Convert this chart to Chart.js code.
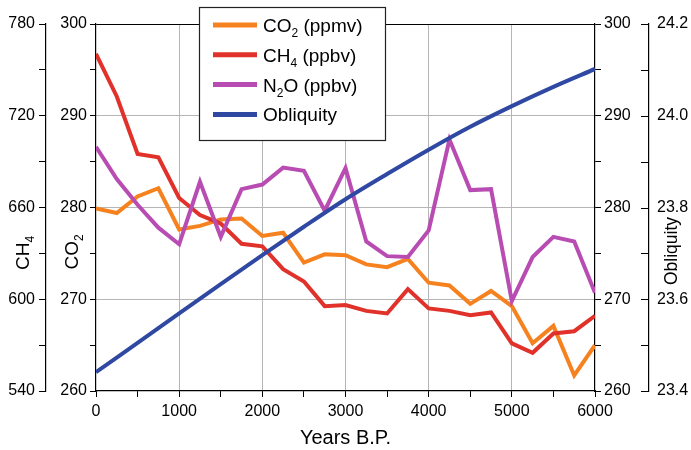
<!DOCTYPE html>
<html>
<head>
<meta charset="utf-8">
<script src="https://cdn.jsdelivr.net/npm/chart.js@4.4.0/dist/chart.umd.min.js"></script>
<style>
  body { margin: 0; background: #fff; }
  canvas { display: block; }
</style>
</head>
<body>
<canvas id="myChart" width="691" height="450"></canvas>
<script>
// greenhouse gases and obliquity over the last 6000 years
var years = [0, 250, 500, 750, 1000, 1250, 1500, 1750, 2000, 2250, 2500, 2750, 3000,
             3250, 3500, 3750, 4000, 4250, 4500, 4750, 5000, 5250, 5500, 5750, 6000];
var co2 = [279.9, 279.4, 281.2, 282.1, 277.6, 278.0, 278.7, 278.8, 276.9, 277.25, 274.0, 274.9, 274.8,
           273.8, 273.5, 274.4, 271.8, 271.5, 269.5, 270.9, 269.25, 265.2, 267.1, 261.7, 265.0];
var ch4 = [760.5, 732.6, 695.0, 692.8, 666.2, 655.1, 649.5, 636.3, 634.6, 619.7, 611.6, 595.5, 596.2,
           592.4, 590.7, 606.6, 594.0, 592.4, 589.6, 591.4, 571.1, 565.0, 577.6, 579.1, 589.2];
var n2o = [286.6, 283.1, 280.3, 277.8, 276.0, 282.8, 276.8, 282.0, 282.5, 284.35, 284.0, 279.65, 284.3,
           276.3, 274.7, 274.6, 277.5, 287.4, 281.9, 282.0, 269.8, 274.6, 276.8, 276.3, 270.7];
var oblYears = [0, 500, 1000, 1500, 2000, 2500, 3000, 3500, 4000, 4500, 5000, 5500, 6000];
var obliquity = [23.441, 23.505, 23.569, 23.633, 23.696, 23.758, 23.818, 23.873, 23.926, 23.976, 24.021, 24.063, 24.102];

// legend names as [text, subscript, rest]
var names = [["CO", "2", " (ppmv)"], ["CH", "4", " (ppbv)"], ["N", "2", "O (ppbv)"], ["Obliquity", "", ""]];
var lineColors = ["#F5821F", "#E0322A", "#B84CB3", "#2F48A2"];

function pts(xs, ys) {
  var out = [];
  for (var i = 0; i < xs.length; i++) out.push({x: xs[i], y: ys[i]});
  return out;
}

var FONT = "'Liberation Sans', Arial, sans-serif";
Chart.defaults.font.family = FONT;
Chart.defaults.font.size = 16;
Chart.defaults.color = "#000";

// text with a lowered subscript, drawn from x along the baseline
function subText(ctx, parts, x, y, size, measureOnly) {
  ctx.font = size + "px " + FONT;
  var w1 = ctx.measureText(parts[0]).width;
  var w3 = ctx.measureText(parts[2]).width;
  ctx.font = Math.round(size * 0.62) + "px " + FONT;
  var w2 = ctx.measureText(parts[1]).width;
  if (measureOnly) return w1 + w2 + w3;
  ctx.font = size + "px " + FONT;
  ctx.fillText(parts[0], x, y);
  ctx.font = Math.round(size * 0.62) + "px " + FONT;
  ctx.fillText(parts[1], x + w1, y + size * 0.28);
  ctx.font = size + "px " + FONT;
  ctx.fillText(parts[2], x + w1 + w2, y);
  return w1 + w2 + w3;
}

function vTitle(ctx, parts, bx, cy, size) {
  ctx.save();
  ctx.translate(bx, cy);
  ctx.rotate(-Math.PI / 2);
  var w = subText(ctx, parts, 0, 0, size, true);
  subText(ctx, parts, -w / 2, 0, size);
  ctx.restore();
}

var extras = {
  id: "extras",
  afterDraw: function(chart) {
    var ctx = chart.ctx;
    var ob = chart.scales.obl;
    ctx.save();
    ctx.fillStyle = "#000";
    ctx.textBaseline = "alphabetic";
    ctx.textAlign = "left";

    // inward ticks on the obliquity axis
    ctx.strokeStyle = "#000";
    ctx.lineWidth = 1;
    ob.ticks.forEach(function(t) {
      var y = Math.round(ob.getPixelForValue(t.value)) + 0.5;
      ctx.beginPath();
      ctx.moveTo(ob.left - 8, y);
      ctx.lineTo(ob.left, y);
      ctx.stroke();
    });

    // axis titles
    vTitle(ctx, ["CH", "4", ""], 29, 253, 19);
    vTitle(ctx, ["CO", "2", ""], 78, 252, 19);
    vTitle(ctx, ["Obliquity", "", ""], 677, 251, 17.5);
    ctx.font = "20px " + FONT;
    ctx.textAlign = "center";
    ctx.fillText("Years B.P.", (chart.chartArea.left + chart.chartArea.right) / 2, 444);

    // legend box inside the plot
    ctx.textAlign = "left";
    ctx.fillStyle = "#fff";
    ctx.fillRect(199, 7, 186, 134);
    ctx.strokeStyle = "#222";
    ctx.lineWidth = 1.2;
    ctx.strokeRect(199.5, 7.5, 186, 133);
    for (var i = 0; i < names.length; i++) {
      var cy = 25 + i * 29.8;
      ctx.strokeStyle = lineColors[i];
      ctx.lineWidth = 5;
      ctx.beginPath();
      ctx.moveTo(213, cy);
      ctx.lineTo(257, cy);
      ctx.stroke();
      ctx.fillStyle = "#000";
      subText(ctx, names[i], 263, cy + 7, 19);
    }
    ctx.restore();
  }
};

function fixW(w) { return function(s) { s.width = w; }; }

new Chart("myChart", {
  type: "line",
  data: {
    datasets: [
      {label: "CO2", data: pts(years, co2), yAxisID: "co2", borderColor: lineColors[0], order: 4},
      {label: "CH4", data: pts(years, ch4), yAxisID: "ch4", borderColor: lineColors[1], order: 3},
      {label: "N2O", data: pts(years, n2o), yAxisID: "n2o", borderColor: lineColors[2], order: 2},
      {label: "Obliquity", data: pts(oblYears, obliquity), yAxisID: "obl", borderColor: lineColors[3], order: 1,
       cubicInterpolationMode: "monotone"}
    ]
  },
  options: {
    responsive: false,
    animation: false,
    devicePixelRatio: 1,
    layout: {padding: {left: 1, right: 1, top: 24, bottom: 0}},
    elements: {
      line: {borderWidth: 4, tension: 0, borderJoinStyle: "miter"},
      point: {radius: 0}
    },
    plugins: {legend: {display: false}, tooltip: {enabled: false}},
    scales: {
      x: {
        type: "linear", position: "bottom", min: 0, max: 6000,
        afterFit: function(s) { s.height = 59; },
        ticks: {
          stepSize: 500, autoSkip: false, maxRotation: 0, padding: 5,
          callback: function(v) { return v % 1000 === 0 ? String(v) : ""; }
        },
        grid: {
          tickLength: 6, tickColor: "#000",
          color: function(c) {
            var v = c.tick ? c.tick.value : 0;
            return (v % 1000 === 0 && v > 0 && v < 6000) ? "#b5b5b5" : "rgba(0,0,0,0)";
          }
        },
        border: {color: "#000", width: 1.2}
      },
      co2: {
        type: "linear", position: "left", weight: 0, min: 260, max: 300,
        afterFit: fixW(50),
        ticks: {
          stepSize: 5, autoSkip: false, padding: 3,
          callback: function(v) { return v % 10 === 0 ? String(v) : ""; }
        },
        grid: {
          tickLength: 6, tickColor: "#000",
          color: function(c) {
            var v = c.tick ? c.tick.value : 0;
            if (v === 300) return "#000";
            return (v === 270 || v === 280 || v === 290) ? "#b5b5b5" : "rgba(0,0,0,0)";
          }
        },
        border: {color: "#000", width: 1.2}
      },
      ch4: {
        type: "linear", position: "left", weight: 1, min: 540, max: 780,
        afterFit: fixW(45),
        ticks: {
          stepSize: 30, autoSkip: false, padding: 4,
          callback: function(v) { return v % 60 === 0 ? String(v) : ""; }
        },
        grid: {drawOnChartArea: false, tickLength: 7, tickColor: "#000"},
        border: {color: "#000", width: 1.2}
      },
      n2o: {
        type: "linear", position: "right", weight: 0, min: 260, max: 300,
        afterFit: fixW(54),
        ticks: {
          stepSize: 5, autoSkip: false, padding: 3,
          callback: function(v) { return v % 10 === 0 ? String(v) : ""; }
        },
        grid: {drawOnChartArea: false, tickLength: 6, tickColor: "#000"},
        border: {color: "#000", width: 1.2}
      },
      obl: {
        type: "linear", position: "right", weight: 1, min: 23.4, max: 24.2,
        afterFit: fixW(41),
        ticks: {
          stepSize: 0.1, autoSkip: false, padding: 8,
          callback: function(v) { return Math.round(v * 10) % 2 === 0 ? v.toFixed(1) : ""; }
        },
        grid: {drawOnChartArea: false, drawTicks: false},
        border: {color: "#000", width: 1.2}
      }
    }
  },
  plugins: [extras]
});
</script>
</body>
</html>
